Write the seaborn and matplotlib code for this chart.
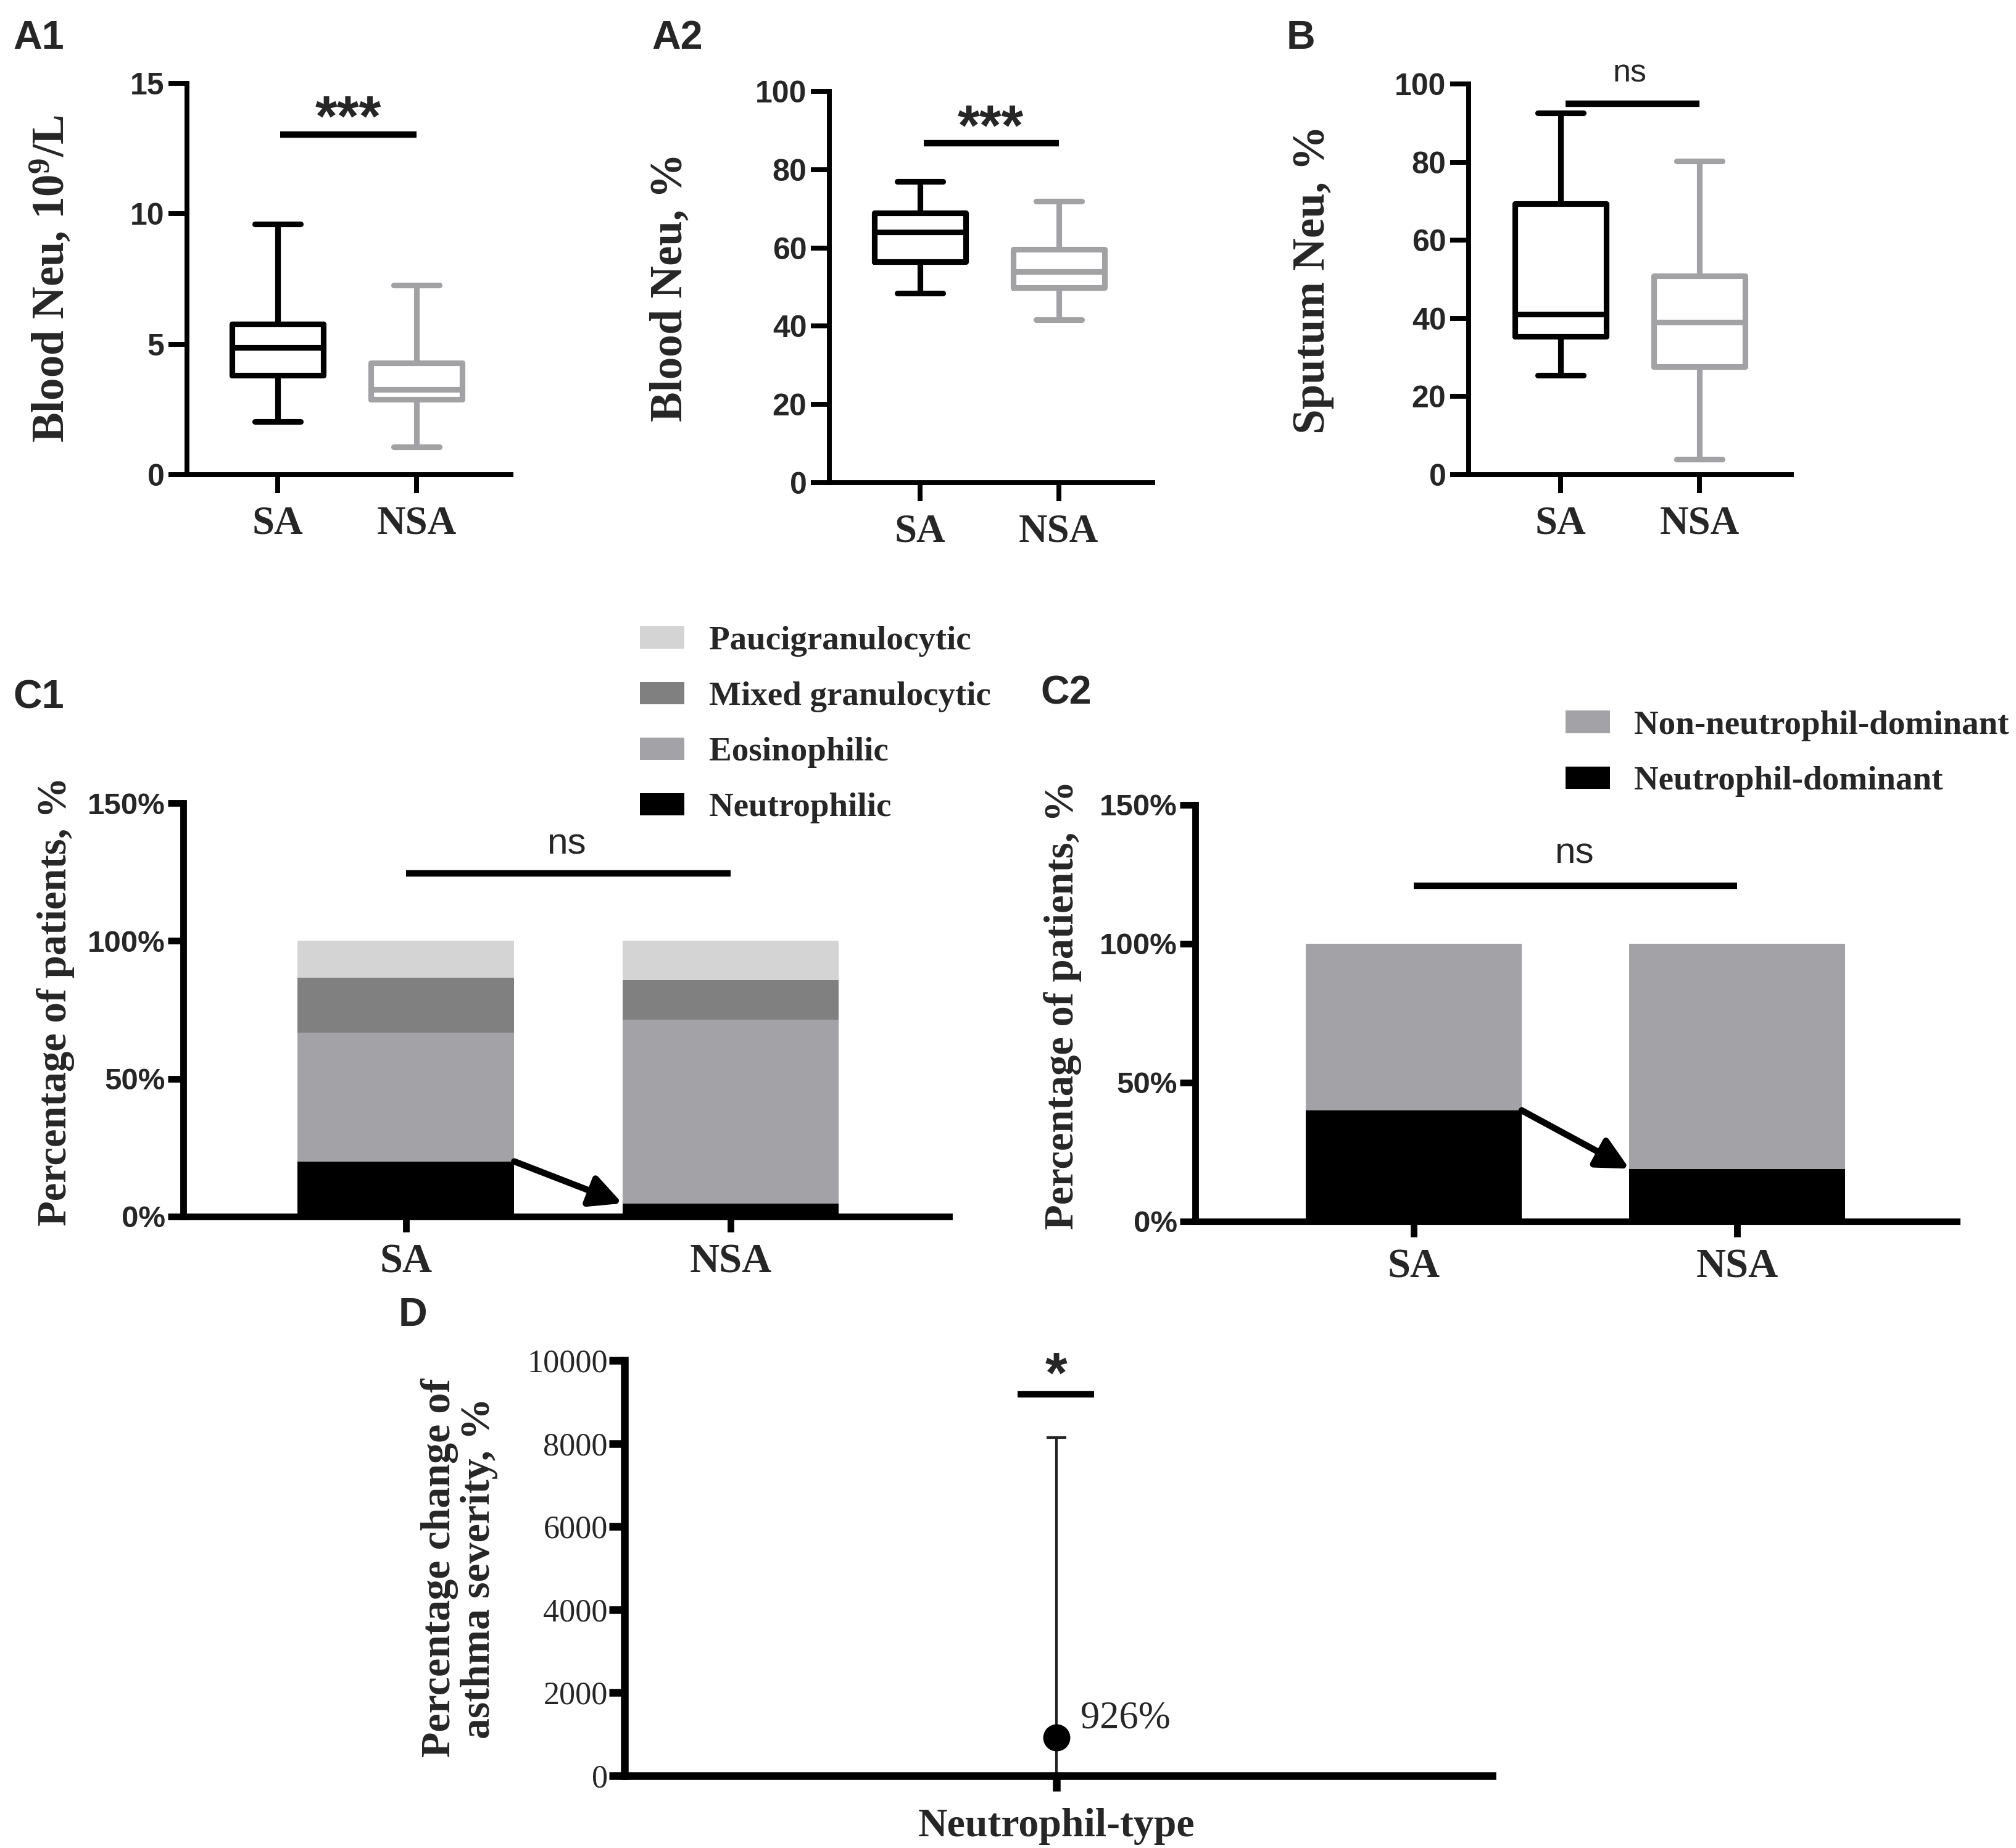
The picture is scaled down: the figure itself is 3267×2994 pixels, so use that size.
import matplotlib
matplotlib.use("Agg")
import matplotlib.pyplot as plt
import numpy as np
import pandas as pd
import seaborn as sns
from matplotlib.patches import Patch

# ---------------- data ----------------
groups = ["SA", "NSA"]
# five-number summaries: min, Q1, median, Q3, max
blood_neu_count_sa = [2.03, 3.81, 4.87, 5.77, 9.6]
blood_neu_count_nsa = [1.06, 2.89, 3.26, 4.28, 7.26]
blood_neu_pct_sa = [48.4, 56.5, 64.0, 69.0, 77.0]
blood_neu_pct_nsa = [41.6, 49.8, 54.0, 59.7, 71.9]
sputum_neu_sa = [25.4, 35.4, 41.0, 69.4, 92.5]
sputum_neu_nsa = [3.9, 27.7, 39.0, 50.9, 80.2]

# stacked proportions (bottom -> top)
c1_types = ["Neutrophilic", "Eosinophilic", "Mixed granulocytic", "Paucigranulocytic"]
c1_sa = [20.0, 46.7, 20.0, 13.3]
c1_nsa = [4.8, 66.7, 14.3, 14.2]

c2_types = ["Neutrophil-dominant", "Non-neutrophil-dominant"]
c2_sa = [40.0, 60.0]
c2_nsa = [19.0, 81.0]

d_category = ["Neutrophil-type"]
d_estimate = [926]
d_ci_low = [50]
d_ci_high = [8150]
d_label = ["926%"]

a_yticks_count = [0, 5, 10, 15]
a_yticks_pct = [0, 20, 40, 60, 80, 100]
c_yticks = [0, 50, 100, 150]
c_yticklabels = ["0%", "50%", "100%", "150%"]
d_yticks = [0, 2000, 4000, 6000, 8000, 10000]

# ---------------- style ----------------
sns.set_theme(style="ticks")
SERIF = ["Liberation Serif", "DejaVu Serif"]
SANS = ["Liberation Sans", "DejaVu Sans"]
plt.rcParams["font.family"] = SANS
plt.rcParams["mathtext.fontset"] = "custom"
plt.rcParams["mathtext.rm"] = "Liberation Serif"
plt.rcParams["mathtext.bf"] = "Liberation Serif:bold"
plt.rcParams["mathtext.it"] = "Liberation Serif:italic"

GRAY = "#a2a2a4"
C1_COLORS = ["#000000", "#a3a3a7", "#808080", "#d4d4d4"]
C2_COLORS = ["#000000", "#a3a3a7"]

W, H, DPI = 3267, 2994, 300
fig = plt.figure(figsize=(W / DPI, H / DPI), dpi=DPI)
fig.patch.set_facecolor("white")


def px_axes(l, r, t, b):
    return fig.add_axes([l / W, 1 - b / H, (r - l) / W, (b - t) / H])


def style_axes(ax, spine_w, tick_len, ypad, xpad):
    sns.despine(ax=ax)
    for s in ["left", "bottom"]:
        ax.spines[s].set_linewidth(spine_w)
        ax.spines[s].set_color("black")
    ax.tick_params(axis="both", direction="out", length=tick_len, width=spine_w, color="black")
    ax.tick_params(axis="y", pad=ypad)
    ax.tick_params(axis="x", pad=xpad)
    ax.grid(False)
    ax.set_facecolor("white")


def panel_letter(x, yc, s):
    fig.text(x / W, 1 - yc / H, s, ha="left", va="center", fontsize=15.5,
             fontweight="bold", family=SANS)


def box_panel(ax, sa, nsa, xlim, ymax, yticks, ylabel, ylabel_x, sig_x0, sig_y, txt, txt_y, txt_kind):
    df = pd.DataFrame({"group": np.repeat(groups, [len(sa), len(nsa)]),
                       "value": np.concatenate([sa, nsa])})
    sns.boxplot(data=df, x="group", y="value", hue="group", order=groups, hue_order=groups,
                palette={"SA": "black", "NSA": GRAY}, fill=False, whis=(0, 100), width=0.66,
                linewidth=2.2, legend=False, ax=ax)
    style_axes(ax, 1.9, 7.3, 1.5, 4.5)
    ax.set_xlim(*xlim)
    ax.set_ylim(0, ymax)
    ax.set_yticks(yticks, labels=[str(v) for v in yticks], fontsize=12, fontweight="bold", family=SANS)
    ax.set_xticks([0, 1], labels=groups, fontsize=15.5, fontweight="bold", family=SERIF)
    ax.set_xlabel("")
    ax.set_ylabel(ylabel, fontsize=17.5, fontweight="bold", family=SERIF)
    ax.yaxis.set_label_coords(ylabel_x, 0.5)
    ax.plot([sig_x0, 1.0], [sig_y, sig_y], color="black", lw=2.5, solid_capstyle="butt", clip_on=False)
    if txt_kind == "star":
        ax.text(0.51, txt_y, txt, ha="center", va="baseline", fontsize=22, fontweight="bold",
                family=SANS, clip_on=False)
    else:
        ax.text(0.5, txt_y, txt, ha="center", va="baseline", fontsize=12.5, family=SANS, clip_on=False)


# ---------------- A1 ----------------
axA1 = px_axes(303, 828, 135, 769)
box_panel(axA1, blood_neu_count_sa, blood_neu_count_nsa, (-0.653, 1.68), 15, a_yticks_count,
          r"Blood Neu, 10$^{\mathbf{9}}$/L", -0.35, 0.02, 13.04, "***", 13.0, "star")
panel_letter(21, 62, "A1")

# ---------------- A2 ----------------
axA2 = px_axes(1344, 1868, 148, 782)
box_panel(axA2, blood_neu_pct_sa, blood_neu_pct_nsa, (-0.653, 1.676), 100, a_yticks_pct,
          "Blood Neu, %", -0.426, 0.027, 86.7, "***", 86.4, "star")
panel_letter(1056, 62, "A2")

# ---------------- B ----------------
axB = px_axes(2380, 2903, 136, 769)
box_panel(axB, sputum_neu_sa, sputum_neu_nsa, (-0.662, 1.662), 100, a_yticks_pct,
          "Sputum Neu, %", -0.417, 0.036, 95.0, "ns", 100.6, "ns")
panel_letter(2085, 62, "B")


# ---------------- C panels ----------------
def stacked_panel(ax, sa, nsa, colors, xlim, sig_y, ns_y):
    bw = 0.667
    cum_sa = np.cumsum(sa)
    cum_nsa = np.cumsum(nsa)
    for i in range(len(sa) - 1, -1, -1):
        sns.barplot(x=groups, y=[cum_sa[i], cum_nsa[i]], color=colors[i], saturation=1,
                    width=bw, errorbar=None, linewidth=0, ax=ax)
    style_axes(ax, 2.6, 6, 1, 4.5)
    ax.set_xlim(*xlim)
    ax.set_ylim(0, 150)
    ax.set_yticks(c_yticks, labels=c_yticklabels, fontsize=11.8, fontweight="bold", family=SANS)
    ax.set_xticks([0, 1], labels=groups, fontsize=16, fontweight="bold", family=SERIF)
    ax.set_xlabel("")
    ax.set_ylabel("Percentage of patients, %", fontsize=16, fontweight="bold", family=SERIF)
    ax.plot([0, 1], [sig_y, sig_y], color="black", lw=2.5, solid_capstyle="butt", clip_on=False)
    ax.text(0.495, ns_y, "ns", ha="center", va="baseline", fontsize=14.5, family=SANS)
    ax.annotate("", xy=(1 - bw / 2, nsa[0]), xytext=(bw / 2, sa[0]),
                arrowprops=dict(arrowstyle="-|>", color="black", lw=2.5, mutation_scale=26,
                                shrinkA=0, shrinkB=0))


leg_prop = {"family": SERIF, "weight": "bold", "size": 13.2}
leg_kw = dict(loc="upper left", frameon=False, prop=leg_prop, handlelength=1.31,
              handleheight=0.64, labelspacing=0.73, borderpad=0, borderaxespad=0)

axC1 = px_axes(297, 1538, 1301, 1971)
stacked_panel(axC1, c1_sa, c1_nsa, C1_COLORS, (-0.686, 1.673), 124.5, 131.6)
axC1.yaxis.set_label_coords(-0.142, 0.52)
panel_letter(21, 1130, "C1")
fig.legend([Patch(facecolor=c, edgecolor="none") for c in C1_COLORS[::-1]], c1_types[::-1],
           bbox_to_anchor=(1037 / W, 1 - 1014 / H), handletextpad=0.72, **leg_kw)

axC2 = px_axes(1937, 3171, 1304, 1979)
stacked_panel(axC2, c2_sa, c2_nsa, C2_COLORS, (-0.676, 1.679), 120.9, 129.1)
axC2.yaxis.set_label_coords(-0.149, 0.52)
panel_letter(1686, 1123, "C2")
fig.legend([Patch(facecolor=c, edgecolor="none") for c in C2_COLORS[::-1]], c2_types[::-1],
           bbox_to_anchor=(2537 / W, 1 - 1151 / H), handletextpad=0.70, **leg_kw)

# ---------------- D ----------------
axD = px_axes(1012, 2418, 2204, 2877)
est = np.array(d_estimate, dtype=float)
yerr = np.vstack([est - np.array(d_ci_low), np.array(d_ci_high) - est])
axD.errorbar(np.arange(len(d_category)), est, yerr=yerr, fmt="none", ecolor="#222222",
             elinewidth=1.0, capsize=3.8, capthick=1.0, zorder=2)
sns.pointplot(x=d_category, y=d_estimate, errorbar=None, color="black", markers="o",
              markersize=8.5, ax=axD, zorder=3)
style_axes(axD, 3.0, 6, 0.5, 6.5)
axD.set_xlim(-1, 1.009)
axD.set_ylim(0, 10000)
axD.set_yticks(d_yticks, labels=[str(v) for v in d_yticks], fontsize=12.5, family=SERIF)
axD.set_xticks([0], labels=d_category, fontsize=15.8, fontweight="bold", family=SERIF)
axD.set_xlabel("")
axD.set_ylabel("Percentage change of\nasthma severity, %", fontsize=16.3, fontweight="bold",
               family=SERIF, linespacing=1.05)
axD.yaxis.set_label_coords(-0.146, 0.5)
axD.text(0.056, d_estimate[0] + 450, d_label[0], ha="left", va="center", fontsize=15, family=SERIF)
axD.plot([-0.09, 0.087], [9190, 9190], color="black", lw=2.5, solid_capstyle="butt", clip_on=False)
axD.text(0.0, 9240, "*", ha="center", va="baseline", fontsize=22, fontweight="bold", family=SANS,
         clip_on=False)
panel_letter(646, 2131, "D")

fig.savefig("out.png", dpi=DPI, facecolor="white")
